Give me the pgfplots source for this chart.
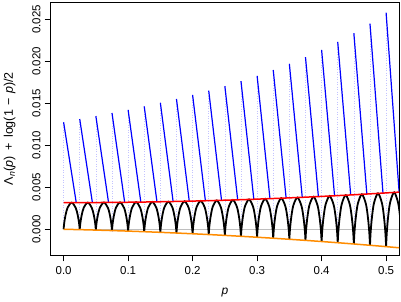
\documentclass[border=0pt]{standalone}
\usepackage{pgfplots}
\pgfplotsset{compat=1.18}
\usepackage{fontspec}
\setmainfont{Liberation Sans}
\definecolor{rorange}{RGB}{255,140,0}
\definecolor{rgray}{RGB}{190,190,190}
\definecolor{dotblue}{RGB}{195,195,255}
\begin{document}
\begin{tikzpicture}
\path[use as bounding box] (-50.7pt,-45.7pt) rectangle (350.3pt,255.3pt);
\begin{axis}[at={(0pt,0pt)}, anchor=south west, scale only axis,
  width=348.3pt, height=253pt,
  xmin=-0.02, xmax=0.52, ymin=-0.0031, ymax=0.02702,
  axis line style={line width=0.6pt},
  tick align=outside, major tick length=6pt,
  tick style={black, line width=0.6pt},
  tick pos=left,
  scaled ticks=false,
  xtick={0,0.1,0.2,0.3,0.4,0.5}, xticklabels={0.0,0.1,0.2,0.3,0.4,0.5},
  ytick={0,0.005,0.01,0.015,0.02,0.025},
  yticklabels={0.000,0.005,0.010,0.015,0.020,0.025},
  xticklabel shift=5pt, yticklabel shift=4pt,
  xticklabel style={font=\fontsize{11.5}{13}\selectfont, inner sep=0pt, anchor=north},
  yticklabel style={font=\fontsize{11.5}{13}\selectfont, inner sep=0pt, rotate=90, anchor=south},
  unbounded coords=jump,
]
% gray zero line
\addplot[rgray, line width=0.8pt] coordinates {(0,0) (0.52,0)};
% dotted verticals
\addplot[dotblue, dotted, line width=0.5pt] coordinates {
(0,0.01274) (0,0) (0,nan)
(0.025,0.01312) (0.025,-0.0000455) (0.025,nan)
(0.05,0.01348) (0.05,-0.000097) (0.05,nan)
(0.075,0.01384) (0.075,-0.000155) (0.075,nan)
(0.1,0.01422) (0.1,-0.000219) (0.1,nan)
(0.125,0.01463) (0.125,-0.000289) (0.125,nan)
(0.15,0.01506) (0.15,-0.000365) (0.15,nan)
(0.175,0.01551) (0.175,-0.000447) (0.175,nan)
(0.2,0.01599) (0.2,-0.000535) (0.2,nan)
(0.225,0.01650) (0.225,-0.000629) (0.225,nan)
(0.25,0.01705) (0.25,-0.000729) (0.25,nan)
(0.275,0.01764) (0.275,-0.000836) (0.275,nan)
(0.3,0.01827) (0.3,-0.000948) (0.3,nan)
(0.325,0.01896) (0.325,-0.001067) (0.325,nan)
(0.35,0.01970) (0.35,-0.001192) (0.35,nan)
(0.375,0.02050) (0.375,-0.001322) (0.375,nan)
(0.4,0.02136) (0.4,-0.001459) (0.4,nan)
(0.425,0.02230) (0.425,-0.001602) (0.425,nan)
(0.45,0.02334) (0.45,-0.001751) (0.45,nan)
(0.475,0.02448) (0.475,-0.001906) (0.475,nan)
(0.5,0.02578) (0.5,-0.002068)
};
% black arcs
\addplot[black, line width=1.8pt, smooth] coordinates {
(0,0) (0.001,0.000772) (0.003,0.001686) (0.00625,0.002580) (0.0125,0.003171) (0.01875,0.002557) (0.022,0.001651) (0.024,0.000730) (0.025,-0.0000455) (0.025,nan)
(0.025,-0.0000455) (0.026,0.000739) (0.028,0.001667) (0.03125,0.002577) (0.0375,0.003177) (0.04375,0.002551) (0.047,0.001628) (0.049,0.000692) (0.05,-0.000097) (0.05,nan)
(0.05,-0.000097) (0.051,0.000704) (0.053,0.001650) (0.05625,0.002578) (0.0625,0.003188) (0.06875,0.002549) (0.072,0.001606) (0.074,0.000650) (0.075,-0.000155) (0.075,nan)
(0.075,-0.000155) (0.076,0.000664) (0.078,0.001633) (0.08125,0.002581) (0.0875,0.003205) (0.09375,0.002549) (0.097,0.001585) (0.099,0.000606) (0.1,-0.000219) (0.1,nan)
(0.1,-0.000219) (0.101,0.000622) (0.103,0.001617) (0.10625,0.002590) (0.1125,0.003229) (0.11875,0.002555) (0.122,0.001563) (0.124,0.000558) (0.125,-0.000289) (0.125,nan)
(0.125,-0.000289) (0.126,0.000577) (0.128,0.001600) (0.13125,0.002601) (0.1375,0.003258) (0.14375,0.002563) (0.147,0.001542) (0.149,0.000507) (0.15,-0.000365) (0.15,nan)
(0.15,-0.000365) (0.151,0.000528) (0.153,0.001583) (0.15625,0.002615) (0.1625,0.003292) (0.16875,0.002574) (0.172,0.001521) (0.174,0.000452) (0.175,-0.000447) (0.175,nan)
(0.175,-0.000447) (0.176,0.000477) (0.178,0.001566) (0.18125,0.002633) (0.1875,0.003333) (0.19375,0.002589) (0.197,0.001500) (0.199,0.000396) (0.2,-0.000535) (0.2,nan)
(0.2,-0.000535) (0.201,0.000421) (0.203,0.001551) (0.20625,0.002656) (0.2125,0.003379) (0.21875,0.002609) (0.222,0.001479) (0.224,0.000335) (0.225,-0.000629) (0.225,nan)
(0.225,-0.000629) (0.226,0.000363) (0.228,0.001535) (0.23125,0.002680) (0.2375,0.003431) (0.24375,0.002630) (0.247,0.001459) (0.249,0.000271) (0.25,-0.000729) (0.25,nan)
(0.25,-0.000729) (0.251,0.000302) (0.253,0.001520) (0.25625,0.002710) (0.2625,0.003489) (0.26875,0.002657) (0.272,0.001439) (0.274,0.000203) (0.275,-0.000836) (0.275,nan)
(0.275,-0.000836) (0.276,0.000237) (0.278,0.001504) (0.28125,0.002742) (0.2875,0.003553) (0.29375,0.002686) (0.297,0.001418) (0.299,0.000134) (0.3,-0.000948) (0.3,nan)
(0.3,-0.000948) (0.301,0.000169) (0.303,0.001489) (0.30625,0.002778) (0.3125,0.003622) (0.31875,0.002719) (0.322,0.001398) (0.324,0.000060) (0.325,-0.001067) (0.325,nan)
(0.325,-0.001067) (0.326,0.000098) (0.328,0.001473) (0.33125,0.002818) (0.3375,0.003697) (0.34375,0.002755) (0.347,0.001378) (0.349,-0.000017) (0.35,-0.001192) (0.35,nan)
(0.35,-0.001192) (0.351,0.000023) (0.353,0.001458) (0.35625,0.002861) (0.3625,0.003778) (0.36875,0.002796) (0.372,0.001360) (0.374,-0.000097) (0.375,-0.001322) (0.375,nan)
(0.375,-0.001322) (0.376,-0.000054) (0.378,0.001445) (0.38125,0.002908) (0.3875,0.003865) (0.39375,0.002839) (0.397,0.001340) (0.399,-0.000180) (0.4,-0.001459) (0.4,nan)
(0.4,-0.001459) (0.401,-0.000135) (0.403,0.001430) (0.40625,0.002958) (0.4125,0.003958) (0.41875,0.002887) (0.422,0.001321) (0.424,-0.000266) (0.425,-0.001602) (0.425,nan)
(0.425,-0.001602) (0.426,-0.000219) (0.428,0.001415) (0.43125,0.003012) (0.4375,0.004056) (0.44375,0.002937) (0.447,0.001302) (0.449,-0.000356) (0.45,-0.001751) (0.45,nan)
(0.45,-0.001751) (0.451,-0.000306) (0.453,0.001401) (0.45625,0.003069) (0.4625,0.004160) (0.46875,0.002992) (0.472,0.001284) (0.474,-0.000449) (0.475,-0.001906) (0.475,nan)
(0.475,-0.001906) (0.476,-0.000397) (0.478,0.001387) (0.48125,0.003130) (0.4875,0.004270) (0.49375,0.003049) (0.497,0.001263) (0.499,-0.000546) (0.5,-0.002068) (0.5,nan)
(0.5,-0.002068) (0.501,-0.000491) (0.503,0.001373) (0.50625,0.003194) (0.5125,0.004386) (0.51875,0.003111) (0.522,0.001246) (0.524,-0.000644) (0.525,-0.002235)
};
% blue segments
\addplot[blue, line width=1.2pt] coordinates {
(0,0.01274) (0.0196,0.003172) (0.01,nan)
(0.025,0.01312) (0.04463,0.003179) (0.03,nan)
(0.05,0.01348) (0.06966,0.003192) (0.06,nan)
(0.075,0.01384) (0.09469,0.003212) (0.08,nan)
(0.1,0.01422) (0.11972,0.003236) (0.11,nan)
(0.125,0.01463) (0.14475,0.003267) (0.13,nan)
(0.15,0.01506) (0.16978,0.003303) (0.16,nan)
(0.175,0.01551) (0.19481,0.003346) (0.18,nan)
(0.2,0.01599) (0.21984,0.003394) (0.21,nan)
(0.225,0.01650) (0.24487,0.003448) (0.23,nan)
(0.25,0.01705) (0.2699,0.003507) (0.26,nan)
(0.275,0.01764) (0.29493,0.003573) (0.28,nan)
(0.3,0.01827) (0.31996,0.003644) (0.31,nan)
(0.325,0.01896) (0.34499,0.003721) (0.33,nan)
(0.35,0.01970) (0.37002,0.003804) (0.36,nan)
(0.375,0.02050) (0.39505,0.003893) (0.38,nan)
(0.4,0.02136) (0.42008,0.003987) (0.41,nan)
(0.425,0.02230) (0.44511,0.004087) (0.43,nan)
(0.45,0.02334) (0.47014,0.004193) (0.46,nan)
(0.475,0.02448) (0.49517,0.004305) (0.48,nan)
(0.5,0.02578) (0.5202,0.004423)
};
% red upper line
\addplot[red, line width=1.5pt] coordinates {
(0,0.003170) (0.025,0.003173) (0.05,0.003182) (0.075,0.003196) (0.1,0.003216)
(0.125,0.003242) (0.15,0.003274) (0.175,0.003312) (0.2,0.003355) (0.225,0.003404)
(0.25,0.003459) (0.275,0.003520) (0.3,0.003587) (0.325,0.003659) (0.35,0.003737)
(0.375,0.003821) (0.4,0.003911) (0.425,0.004006) (0.45,0.004108) (0.475,0.004215)
(0.5,0.004328) (0.525,0.004446)
};
% orange lower line
\addplot[rorange, line width=1.5pt] coordinates {
(0,0) (0.025,-0.0000455) (0.05,-0.000097) (0.075,-0.000155) (0.1,-0.000219)
(0.125,-0.000289) (0.15,-0.000365) (0.175,-0.000447) (0.2,-0.000535) (0.225,-0.000629)
(0.25,-0.000729) (0.275,-0.000836) (0.3,-0.000948) (0.325,-0.001067) (0.35,-0.001192)
(0.375,-0.001322) (0.4,-0.001459) (0.425,-0.001602) (0.45,-0.001751) (0.475,-0.001906)
(0.5,-0.002068) (0.525,-0.002235)
};
\end{axis}
\node[anchor=base, font=\fontsize{12}{14}\selectfont] at (174.15pt,-39.5pt) {\itshape p};
\node[anchor=base, rotate=90, font=\fontsize{12.5}{14}\selectfont] at (-37.7pt,126.5pt)
  {Λ\textsubscript{\itshape n}(\textit{p})\hspace{0.45em}+\hspace{0.45em}log(1\hspace{0.35em}−\hspace{0.35em}\textit{p})/2};
\end{tikzpicture}
\end{document}
